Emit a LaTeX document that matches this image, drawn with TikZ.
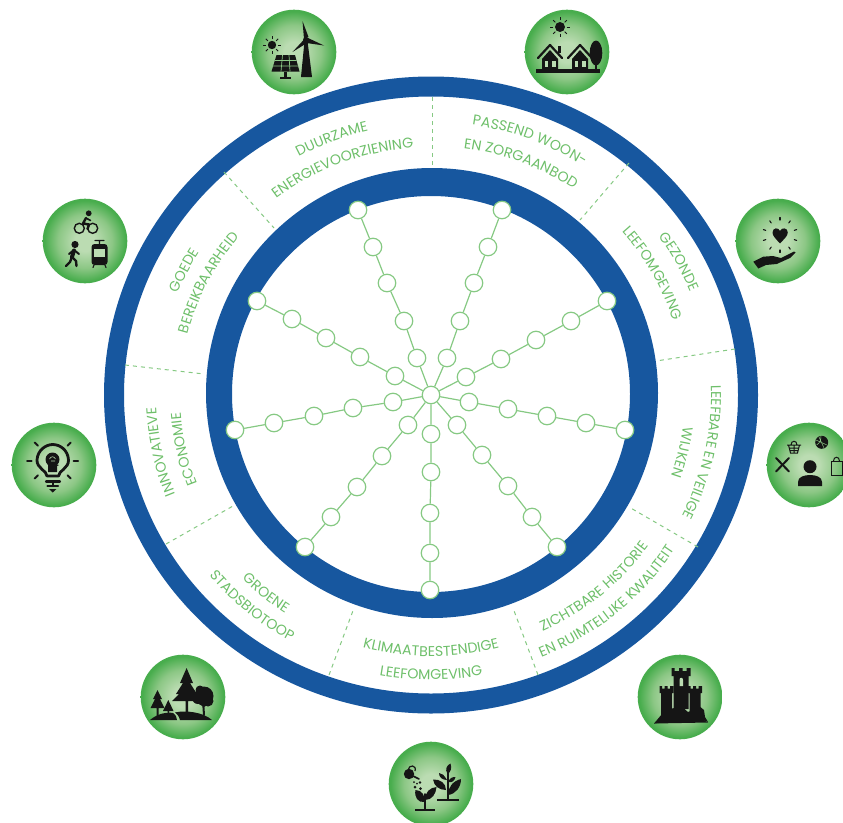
\documentclass[tikz,border=0pt]{standalone}
\usepackage{fontspec}
\setmainfont{Poppins}
\usetikzlibrary{decorations.text}
\definecolor{ringblue}{HTML}{17579F}
\definecolor{lab}{HTML}{6EBF6A}
\definecolor{spoke}{HTML}{86C983}
\definecolor{ink}{HTML}{151515}
\definecolor{ballA}{HTML}{BBDCB2}
\definecolor{ballB}{HTML}{8CC785}
\definecolor{ballC}{HTML}{48AD4D}
\pgfdeclareradialshading{greenball}{\pgfpoint{0bp}{0bp}}{color(0bp)=(ballA);color(6bp)=(ballA);color(16bp)=(ballB);color(24bp)=(ballC);color(50bp)=(ballC)}
\newcommand{\labelfont}{\fontsize{14.2}{14.2}\selectfont\color{lab}}
\newcommand{\cwlabel}[3]{%
  \pgfmathsetmacro\ra{#1-5}\pgfmathsetmacro\rb{(#1-5)*0.975}%
  \pgfmathsetmacro\sa{#2+50}\pgfmathsetmacro\ea{#2-50}%
  \path[decorate,decoration={text along path,text align=center,text={|\labelfont|#3}}]
    (\sa:\ra pt and \rb pt) arc[start angle=\sa,end angle=\ea,x radius=\ra pt,y radius=\rb pt];}
\newcommand{\ccwlabel}[3]{%
  \pgfmathsetmacro\ra{#1+5}\pgfmathsetmacro\rb{(#1+5)*0.975}%
  \pgfmathsetmacro\sa{#2-50}\pgfmathsetmacro\ea{#2+50}%
  \path[decorate,decoration={text along path,text align=center,text={|\labelfont|#3}}]
    (\sa:\ra pt and \rb pt) arc[start angle=\sa,end angle=\ea,x radius=\ra pt,y radius=\rb pt];}
\newcommand{\sunicon}[3]{%
  \fill[ink] (#1,#2) circle[radius=#3];
  \foreach \t in {0,45,...,315}{\draw[ink,line width=0.9pt] (#1,#2) ++(\t:#3+1.6) -- ++(\t:3);}}
\tikzset{
  ball/.style={shading=greenball},
  thick ink/.style={draw=ink,line cap=round,line join=round,line width=#1},
  divider/.style={draw=spoke,line width=1pt,dash pattern=on 4pt off 4pt},
  hub/.style={circle,draw=spoke,fill=white,line width=1.2pt,minimum size=17.5pt,inner sep=0pt},
  spokeline/.style={draw=spoke,line width=1.2pt}
}
\begin{document}
\begin{tikzpicture}[x=1pt,y=-1pt]
\useasboundingbox (0,0) rectangle (843,822);
% rings
\fill[ringblue,even odd rule] (431,395) ellipse[x radius=327,y radius=318.5] (431,395) ellipse[x radius=307,y radius=298.5];
\fill[ringblue,even odd rule] (432,393) ellipse[x radius=226,y radius=225] (431,394) ellipse[x radius=199,y radius=198];
% dividers
\coordinate (d1a) at (432,97);  \coordinate (d1b) at (432,166);
\coordinate (d2a) at (629,163); \coordinate (d2b) at (580,220);
\coordinate (d3a) at (735,349); \coordinate (d3b) at (656,361);
\coordinate (d4a) at (698,547); \coordinate (d4b) at (629,507);
\coordinate (d5a) at (538,675); \coordinate (d5b) at (513,608);
\coordinate (d6a) at (329,675); \coordinate (d6b) at (354,608);
\coordinate (d7a) at (166,544); \coordinate (d7b) at (233,506);
\coordinate (d8a) at (125,365); \coordinate (d8b) at (204,374);
\coordinate (d9a) at (224,172); \coordinate (d9b) at (274,228);
\foreach \i in {1,...,9}{\draw[divider] (d\i a) -- (d\i b);}
% labels
\begin{scope}[shift={(431,395)},y=1pt]
\cwlabel{283}{111}{DUURZAME}
\cwlabel{259}{111}{ENERGIEVOORZIENING}
\cwlabel{285}{69}{PASSEND WOON-}
\cwlabel{260}{69}{EN ZORGAANBOD}
\cwlabel{285}{28.5}{GEZONDE}
\cwlabel{259}{29}{LEEFOMGEVING}
\cwlabel{285}{-12}{LEEFBARE EN VEILIGE}
\cwlabel{259}{-13}{WIJKEN}
\ccwlabel{262}{-50}{ZICHTBARE HISTORIE}
\ccwlabel{286}{-50}{EN RUIMTELIJKE KWALITEIT}
\ccwlabel{263}{-90}{KLIMAATBESTENDIGE}
\ccwlabel{287}{-90}{LEEFOMGEVING}
\ccwlabel{262}{-129.5}{GROENE}
\ccwlabel{284}{-130}{STADSBIOTOOP}
\cwlabel{280}{-168}{INNOVATIEVE}
\cwlabel{256}{-167.5}{ECONOMIE}
\cwlabel{279}{153}{GOEDE}
\cwlabel{256}{153}{BEREIKBAARHEID}
\end{scope}
% spokes
\node[hub] (c) at (431,395) {};
\foreach \s/\pa/\pb/\pc/\pd/\pe in {
  a/{417,358}/{404,321}/{387,283}/{373,247}/{358,210},
  b/{447,358}/{460,321}/{474,283}/{488,247}/{502,210},
  d/{466,377}/{501,359}/{536,340}/{571,321}/{607,301},
  e/{469,402}/{508,409}/{547,416}/{586,423}/{625,430},
  f/{457,425}/{482,455}/{508,486}/{532,517}/{557,547},
  g/{431,434}/{431,472}/{430,513}/{430,553}/{430,590},
  h/{408,425}/{382,456}/{357,487}/{331,517}/{305,547},
  i/{393,402}/{353,408}/{314,416}/{274,423}/{235,430},
  j/{395,376}/{360,357}/{326,338}/{292,319}/{257,301}}{
  \node[hub] (\s1) at (\pa) {};
  \node[hub] (\s2) at (\pb) {};
  \node[hub] (\s3) at (\pc) {};
  \node[hub] (\s4) at (\pd) {};
  \node[hub] (\s5) at (\pe) {};
  \draw[spokeline] (c) -- (\s1) -- (\s2) -- (\s3) -- (\s4) -- (\s5);
}
% badges
\foreach \p in {{294,52},{567,52},{85,241},{778,241},{54,465},{809,465},{183,697},{680,697},{431,784}}{
  \shade[ball] (\p) circle[radius=42.3];
}
% wind and solar
\begin{scope}[shift={(294,52)}]
\sunicon{-22}{-7}{4.2}
\fill[ink] (10.5,-11) -- (13.5,-11) -- (18,25) -- (7,25) -- cycle;
\fill[ink] (12,-12) circle[radius=3];
\fill[ink] (10,-13) -- (8.5,-31) -- (14.5,-15) -- cycle;
\fill[ink] (14,-14) -- (30,-6.5) -- (12.5,-9) -- cycle;
\fill[ink] (10.5,-13) -- (-1.5,0) -- (13,-9) -- cycle;
\fill[ink] (-17.5,3) -- (1,3) -- (5.5,19.5) -- (-22.5,19.5) -- cycle;
\draw[ballB,line width=0.7pt] (-19,8.5) -- (2.5,8.5) (-21,14) -- (4,14) (-11.5,3) -- (-13,19.5) (-5,3) -- (-4,19.5);
\fill[ink] (-10,19.5) rectangle (-7.5,25.5);
\fill[ink] (-14,24.5) rectangle (-3.5,26.5);
\end{scope}
% houses
\begin{scope}[shift={(567,52)}]
\sunicon{-7}{-25}{5}
\fill[ink] (-31,17) rectangle (33,21);
\foreach \d in {0,30}{
  \begin{scope}[shift={(\d,0)}]
  \draw[thick ink=2.2pt] (-29,6) -- (-17,-7) -- (-5,6);
  \fill[ink] (-25,7) -- (-17,-2) -- (-9,7) -- (-9,18) -- (-25,18) -- cycle;
  \fill[ballA] (-22.5,9) rectangle (-19.5,15);
  \fill[ballA] (-15,9) rectangle (-11.5,15);
  \end{scope}
}
\fill[ink] (-9,-6) rectangle (-6,1);
\fill[ink] (29,1) ellipse[x radius=6.3,y radius=12.5];
\fill[ink] (28,10) rectangle (30,18);
\end{scope}
% transport
\begin{scope}[shift={(85,241)}]
\draw[ink,line width=1.4pt] (-5.7,-12.7) circle[radius=5];
\draw[ink,line width=1.4pt] (7.7,-12.7) circle[radius=5];
\fill[ink] (3.7,-27.7) circle[radius=2.9];
\draw[thick ink=2.4pt] (1,-23) -- (-2,-17.5) -- (4,-16.5) -- (2.5,-12);
\draw[thick ink=1.6pt] (1,-23) -- (5.5,-20.5);
\fill[ink] (-10,3.5) circle[radius=3.6];
\draw[thick ink=4pt] (-11,9.5) -- (-13,16);
\draw[thick ink=2.4pt] (-13,16) -- (-9,20) -- (-8.5,25);
\draw[thick ink=2.4pt] (-13,16) -- (-15,21) -- (-19,25);
\draw[thick ink=2pt] (-11,9) -- (-6,13);
\draw[thick ink=2pt] (-11,9) -- (-16,13);
\fill[ink,rounded corners=3pt] (6.5,3) rectangle (22.5,24);
\fill[ballA] (9,7.5) rectangle (20,16);
\draw[thick ink=1.2pt] (10,-0.5) -- (19,-0.5) (14.5,-0.5) -- (14.5,3) (9,24) -- (8,26.5) (20,24) -- (21,26.5);
\end{scope}
% heart and hand
\begin{scope}[shift={(778,241)}]
\fill[ink] (2,2.5) .. controls (-2,-2) and (-5.5,-5) .. (-5.5,-8.5) .. controls (-5.5,-13.5) and (0.5,-14) .. (2,-10) .. controls (3.5,-14) and (9.8,-13.5) .. (9.8,-8.5) .. controls (9.8,-5) and (6,-2) .. (2,2.5) -- cycle;
\foreach \t in {0,36,...,324}{\draw[thick ink=1.1pt] (2,-6) ++(\t+90:15) -- ++(\t+90:2.5);}
\fill[ink] (-24.7,20.7) -- (-14.7,15.7) -- (-5,15) -- (3,17) -- (16,10.5) -- (17.5,11.5) -- (12,17) -- (-1.3,23) -- (-12,24) -- (-19.7,27.5) -- cycle;
\end{scope}
% bulb
\begin{scope}[shift={(54,465)}]
\draw[thick ink=2.8pt] (-7,11) .. controls (-7,6) and (-17.5,3) .. (-17,-5) .. controls (-16.5,-15) and (-8,-20.5) .. (-1.3,-20.5) .. controls (6,-20.5) and (14,-15) .. (14.5,-5) .. controls (15,3) and (4.5,6) .. (4.5,11) -- cycle;
\fill[ink] (-1.5,-5.5) circle[radius=7];
\fill[ink] (-6,-2) -- (-6,7) -- (3,7) -- (3,1) -- (5,0) -- cycle;
\draw[ballA,line width=0.6pt] (-4.5,-6) .. controls (-3,-9) and (0,-9) .. (1.5,-6) (-3,-4) -- (1,-4);
\draw[thick ink=2.2pt] (-8,16.5) -- (6,16.5) (-6.5,21) -- (4,21);
\fill[ink] (-5,24) -- (2.5,24) -- (-1.3,27.5) -- cycle;
\foreach \t in {90,45,135,0,180,-45,-135}{\draw[thick ink=2pt] (-1.3,-4.5) ++(\t:21) -- ++(\t:4.5);}
\end{scope}
% person and activities
\begin{scope}[shift={(809,465)}]
\fill[ink] (1,1.7) circle[radius=6.5];
\fill[ink] (-11,21) -- (-11,17) .. controls (-11,12) and (-5,10) .. (1,10) .. controls (7,10) and (13,12) .. (13,17) -- (13,21) -- cycle;
\draw[ink,line width=1pt] (-22,-20) -- (-8,-20) (-20.5,-20) -- (-18.5,-12) -- (-11.5,-12) -- (-9.5,-20) (-20,-17) -- (-10,-17) (-19.5,-14.5) -- (-10.5,-14.5) (-15,-20) -- (-15,-12) (-18,-20) .. controls (-18,-25) and (-12,-25) .. (-12,-20);
\fill[ink] (12.7,-22.7) circle[radius=6.5];
\draw[ballB,line width=0.5pt] (7,-25) -- (18,-20) (10,-28) -- (15,-17) (7.5,-20) .. controls (11,-22) and (12,-25) .. (12,-29);
\draw[thick ink=2pt] (-33,-7) -- (-20,6.5);
\draw[thick ink=2pt] (-20,-7) -- (-33,6.5);
\draw[ink,line width=1pt] (22,-4) rectangle (33,10);
\draw[ink,line width=1pt] (24.5,-4) .. controls (24.5,-9) and (30.5,-9) .. (30.5,-4);
\end{scope}
% trees
\begin{scope}[shift={(183,697)}]
\fill[ink] (3.6,-29) -- (10,-14) -- (7,-14) -- (14,-3) -- (11,-3) -- (18,4) -- (5,4) -- (5,19) -- (2.5,19) -- (2.5,4) -- (-11,4) -- (-4,-3) -- (-7,-3) -- (0,-14) -- (-3,-14) -- cycle;
\fill[ink] (-25.5,-7) -- (-21,2) -- (-23,2) -- (-18.5,11) -- (-24.5,11) -- (-24.5,20) -- (-26.5,20) -- (-26.5,11) -- (-32.5,11) -- (-28,2) -- (-30,2) -- cycle;
\fill[ink] (-14.7,3) -- (-9.5,14) -- (-14,14) -- (-14,20) -- (-15.5,20) -- (-15.5,14) -- (-20,14) -- cycle;
\fill[ink] (21,-1) circle[radius=9.5] (15,1) circle[radius=6] (25,4) circle[radius=5.5] (17,-7) circle[radius=4.5];
\draw[thick ink=2pt] (20,3) -- (21,18) (21,9) -- (15,5) (21,9) -- (26,5);
\fill[ink] (-33,23) .. controls (-25,16) and (-15,15) .. (-10,16) .. controls (-7,18) and (-6,21) .. (-6,23) -- cycle;
\fill[ink] (-3,23) .. controls (-4,19) and (-6,17) .. (-8,15.5) .. controls (2,13) and (20,15) .. (29,23) -- cycle;
\end{scope}
% castle
\begin{scope}[shift={(680,697)}]
\fill[ink] (-8.5,-29) -- (-5.5,-29) -- (-5.5,-26) -- (-1,-26) -- (-1,-29) -- (2.5,-29) -- (2.5,-26) -- (6.5,-26) -- (6.5,-29) -- (10.5,-29) -- (10.5,-21) -- (8.5,-21) -- (8.5,12) -- (-6.5,12) -- (-6.5,-21) -- (-8.5,-21) -- cycle;
\fill[ballA] (-0.5,-11) -- (-0.5,-17) .. controls (-0.5,-20) and (3,-20) .. (3,-17) -- (3,-11) -- cycle;
\foreach \d in {0,28.5}{
\fill[ink,shift={(\d,0)}] (-20.5,-11) -- (-18,-11) -- (-18,-8.5) -- (-15.5,-8.5) -- (-15.5,-11) -- (-12.5,-11) -- (-12.5,-8.5) -- (-10,-8.5) -- (-10,-11) -- (-6.5,-11) -- (-6.5,-4) -- (-8,-4) -- (-8,20) -- (-19,20) -- (-19,-4) -- (-20.5,-4) -- cycle;
}
\fill[ink] (-26,26.5) -- (-18,17) -- (-12,12) -- (-5,11) -- (1,9) -- (8,15) -- (13,13) -- (18,8) -- (24,13) -- (25,20) -- (28,25) -- (14,20) -- (0,24) -- cycle;
\fill[ink] (-26,26.5) -- (-10,16) -- (12,17) -- (28,25.5) -- cycle;
\end{scope}
% watering and plants
\begin{scope}[shift={(431,784)}]
\fill[ink] (-22,-10) circle[radius=5.2];
\draw[ink,line width=1.2pt] (-23,-14) .. controls (-22,-20) and (-14,-19) .. (-16,-13);
\draw[thick ink=1.6pt] (-18,-8) -- (-12,-5);
\fill[ink] (-16,3) circle[radius=1.5] (-11,-1.5) circle[radius=1.3] (-10.5,4.5) circle[radius=1.5] (-14,-0.5) circle[radius=1] (-17,-2) circle[radius=1];
\draw[thick ink=2pt] (-6.5,10) -- (-6.5,25);
\fill[ink] (-6.5,18) .. controls (-13,19) and (-17,13) .. (-15.5,6) .. controls (-9,6) and (-5.5,12) .. (-6.5,18) -- cycle;
\fill[ink] (-6,16) .. controls (-6,8) and (-1,3.5) .. (5.5,3) .. controls (5,10) and (1,16) .. (-6,16) -- cycle;
\fill[ink] (-16,24.5) rectangle (3.5,27);
\draw[thick ink=2pt] (16.5,-15) -- (16.5,15);
\fill[ink] (16.5,-10) .. controls (13.5,-15) and (16,-19) .. (19.5,-20.5) .. controls (21,-16) and (20,-12) .. (16.5,-10) -- cycle;
\fill[ink] (16,-4) .. controls (13,-9) and (11,-11) .. (8,-11) .. controls (8,-7) and (11,-4) .. (16,-4) -- cycle;
\fill[ink] (17,-2) .. controls (19,-6) and (21,-7) .. (24.5,-7) .. controls (23.5,-3) and (21,-1) .. (17,-2) -- cycle;
\fill[ink] (15,6) .. controls (8,6) and (3,2) .. (2,-4.5) .. controls (9,-5) and (15,-1) .. (15,6) -- cycle;
\fill[ink] (17,11) .. controls (17,3) and (22,-3) .. (30,-5) .. controls (30,3) and (25,10) .. (17,11) -- cycle;
\fill[ink] (6,14.5) rectangle (28,17);
\end{scope}
\end{tikzpicture}
\end{document}
